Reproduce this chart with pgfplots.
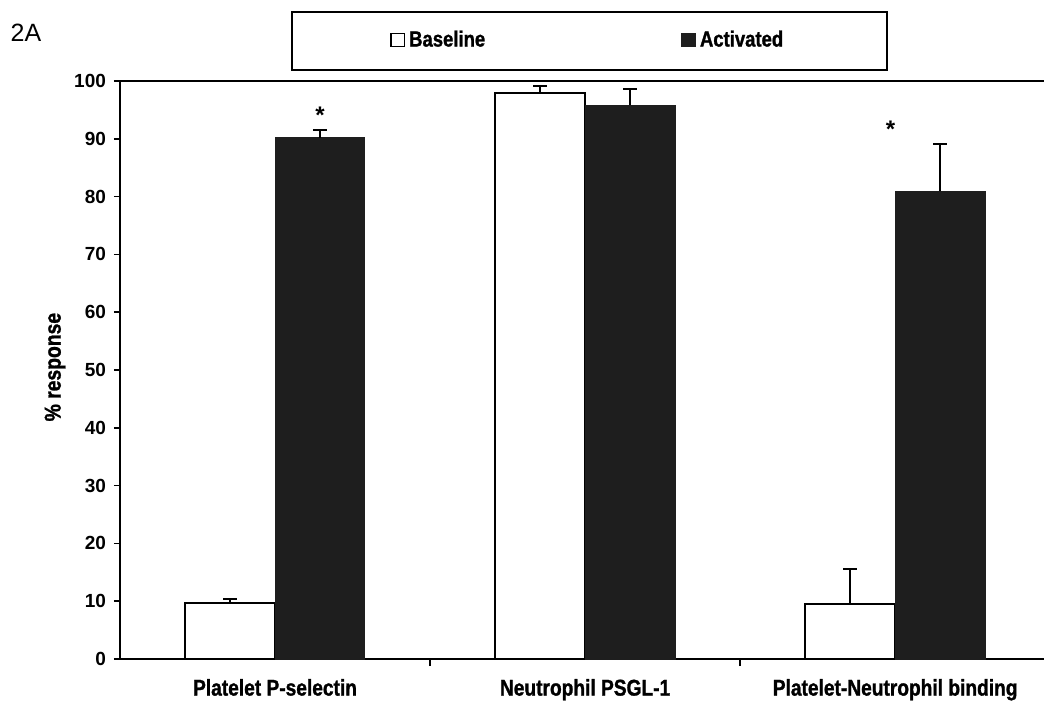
\documentclass[border=0pt]{standalone}
\usepackage{fontspec}
\setmainfont{Liberation Sans}
\newfontfamily\narrowbf{Liberation Sans Bold}[FakeStretch=0.84, FakeBold=1.2]
\usepackage{pgfplots}
\pgfplotsset{compat=1.18}
\definecolor{barblack}{HTML}{1E1E1E}
\begin{document}
\begin{tikzpicture}
\useasboundingbox (-60pt,-25pt) rectangle (462pt,329.5pt);
\begin{axis}[
  at={(0pt,0pt)}, anchor=south west,
  scale only axis, width=462pt, height=289pt,
  xmin=-0.5, xmax=2.48, ymin=0, ymax=100,
  axis x line=box, axis y line=left,
  axis line style={line width=1pt, -},
  ytick={0,10,...,100},
  xtick={0,1,2},
  xticklabels={Platelet P-selectin, Neutrophil PSGL-1, Platelet-Neutrophil binding},
  minor xtick={0.5,1.5},
  major x tick style={draw=none},
  minor x tick style={line width=0.8pt, black},
  minor tick length=3.5pt,
  major tick length=3pt,
  xtick pos=bottom, ytick pos=left,
  tick align=outside,
  y tick style={line width=0.8pt, black},
  /pgf/number format/assume math mode=true,
  yticklabel style={font=\fontsize{9.5}{10}\selectfont\bfseries, xshift=-0.5pt},
  xticklabel style={font=\fontsize{11.4}{13}\selectfont\narrowbf, yshift=-3.5pt},
  ylabel={\% response},
  ylabel style={font=\fontsize{11.5}{13}\selectfont\narrowbf, at={(axis description cs:-0.0703,0.505)}, anchor=center},
  ybar=0pt, bar width=0.29,
  legend columns=2,
  legend style={draw=none, fill=none, inner sep=0pt, at={(0.2922,1.0708)}, anchor=west,
    font=\fontsize{11}{12}\selectfont\narrowbf,
    /tikz/every even column/.append style={column sep=96pt}},
  legend image code/.code={\draw[#1, line width=0.8pt] (0pt,-3.3pt) rectangle (6.6pt,3.3pt);},
  clip=false,
]
\addplot[draw=black, line width=1pt, fill=white,
  error bars/.cd, y dir=plus, y explicit,
  error bar style={line width=1pt, black}, error mark options={rotate=90, line width=1pt, black, mark size=3.5pt}]
  coordinates {(0,9.7) +- (0,0.6) (1,97.9) +- (0,1.2) (2,9.5) +- (0,6.1)};
\addplot[draw=barblack, line width=0.5pt, fill=barblack,
  error bars/.cd, y dir=plus, y explicit,
  error bar style={line width=1pt, black}, error mark options={rotate=90, line width=1pt, black, mark size=3.5pt}]
  coordinates {(0,90.2) +- (0,1.4) (1,95.8) +- (0,2.9) (2,80.9) +- (0,8.2)};
\legend{Baseline, Activated}
\node[font=\bfseries\large, inner sep=0pt] at (axis cs:0.145,94.0) {*};
\node[font=\bfseries\large, inner sep=0pt] at (axis cs:1.985,91.6) {*};
\draw[line width=1pt] ([yshift=5.5pt]axis description cs:0.1861,1) rectangle ([yshift=34.5pt]axis description cs:0.8301,1);
\end{axis}
\node[font=\fontsize{12.5}{14}\selectfont, anchor=center] at (-47pt,313.25pt) {2A};
\end{tikzpicture}
\end{document}
